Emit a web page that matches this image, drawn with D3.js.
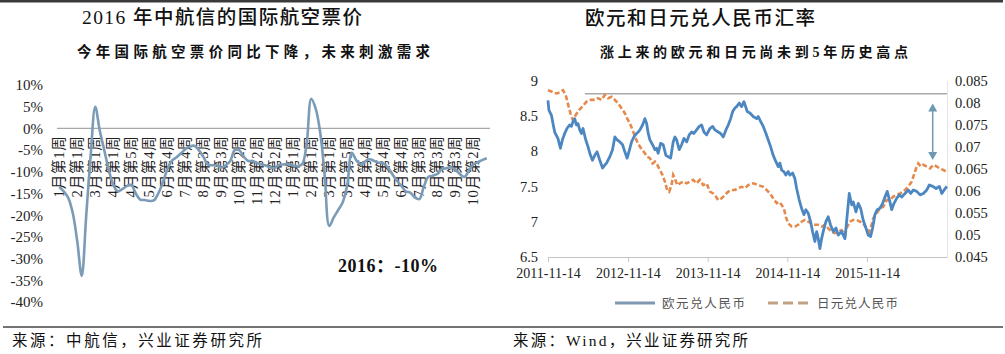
<!DOCTYPE html>
<html>
<head>
<meta charset="utf-8">
<script src="https://cdn.jsdelivr.net/npm/d3@7"></script>
<style>
  body { margin: 0; background: #fff; }
  svg { display: block; }
  text { font-family: "Liberation Serif", "Noto Sans CJK SC", serif; }
</style>
</head>
<body>
<svg id="chart" width="1005" height="354"></svg>
<script>
// ---- left chart: weekly change of international air fares (%) ----
const fareLabels = ['1月第1周','2月第1周','3月第1周','4月第1周','4月第5周','5月第4周','6月第4周','7月第4周',
  '8月第3周','9月第3周','10月第2周','11月第2周','12月第2周','1月第1周','2月第1周','3月第1周','3月第5周',
  '4月第4周','5月第4周','6月第4周','7月第3周','8月第3周','9月第3周','10月第2周'];
const labelEvery = 4; // one label every 4 weeks
const fareChange = [-13.5,-14.5,-16,-19.5,-26,-34,-20,-6,5,-0.5,
  -5,-9.5,-13,-14.5,-14,-13.3,-13,-15,-16.4,-16.5,
  -16.7,-16.6,-15,-12.5,-9.5,-7.5,-6.7,-5.8,-4.8,-4.2,
  -4,-5,-6.5,-8.3,-8.5,-8.5,-9,-8.5,-7.5,-5,
  -5,-6.5,-7.5,-7.5,-8,-8.3,-8.6,-9,-9,-8.4,
  -8.3,-8.3,-8.6,-8.7,-8.2,-3.3,6.8,4.5,-1,-11,
  -22.5,-20.5,-18.8,-17,-13,-5.6,-7.3,-8.3,-7.6,-7.1,
  -7.5,-7.9,-8,-9,-10.5,-12,-13.2,-14.5,-14.8,-15.9,
  -16.3,-13.5,-11.2,-10.9,-10.5,-9.4,-9.2,-8.9,-9.5,-10.5,
  -11.2,-9.8,-8.3,-7.8,-7.3,-6.9];
const fareTicks = [10,5,0,-5,-10,-15,-20,-25,-30,-35,-40];

// ---- right chart: EUR/CNY (left axis) and JPY/CNY (right axis), time in decimal years ----
const eurSeries = [[2011.868,8.72],[2011.880,8.58],[2011.911,8.51],[2011.931,8.39],[2011.952,8.27],[2011.993,8.18],[2012.024,8.04],[2012.049,8.16],[2012.078,8.25],[2012.106,8.32],[2012.140,8.37],[2012.162,8.35],[2012.182,8.42],[2012.203,8.46],[2012.224,8.37],[2012.244,8.39],[2012.266,8.30],[2012.287,8.25],[2012.307,8.32],[2012.341,8.16],[2012.370,8.06],[2012.400,7.94],[2012.425,7.87],[2012.454,7.94],[2012.483,7.99],[2012.517,7.87],[2012.551,7.76],[2012.579,7.80],[2012.601,7.83],[2012.642,7.92],[2012.676,8.02],[2012.705,8.20],[2012.734,8.16],[2012.768,8.13],[2012.802,8.09],[2012.830,7.99],[2012.859,7.90],[2012.893,8.04],[2012.914,8.13],[2012.943,8.20],[2012.977,8.25],[2012.997,8.27],[2013.019,8.30],[2013.052,8.37],[2013.081,8.46],[2013.103,8.39],[2013.123,8.25],[2013.144,8.16],[2013.178,8.09],[2013.207,8.02],[2013.228,8.04],[2013.248,7.97],[2013.278,8.11],[2013.311,8.09],[2013.345,7.94],[2013.374,7.92],[2013.404,7.90],[2013.436,8.13],[2013.458,8.20],[2013.479,8.16],[2013.512,8.02],[2013.542,8.09],[2013.571,8.18],[2013.605,8.13],[2013.637,8.23],[2013.667,8.27],[2013.696,8.25],[2013.730,8.30],[2013.763,8.35],[2013.793,8.37],[2013.822,8.27],[2013.855,8.23],[2013.897,8.32],[2013.931,8.35],[2013.960,8.30],[2014.001,8.27],[2014.031,8.25],[2014.064,8.20],[2014.098,8.30],[2014.127,8.37],[2014.157,8.46],[2014.182,8.56],[2014.211,8.61],[2014.232,8.63],[2014.265,8.68],[2014.295,8.63],[2014.324,8.70],[2014.365,8.56],[2014.399,8.54],[2014.440,8.49],[2014.483,8.46],[2014.503,8.49],[2014.533,8.42],[2014.566,8.35],[2014.600,8.25],[2014.628,8.16],[2014.659,8.06],[2014.691,7.94],[2014.725,7.85],[2014.754,7.78],[2014.775,7.83],[2014.797,7.73],[2014.825,7.71],[2014.850,7.66],[2014.879,7.71],[2014.901,7.66],[2014.935,7.69],[2014.963,7.61],[2014.985,7.47],[2015.017,7.31],[2015.047,7.19],[2015.076,7.10],[2015.101,7.17],[2015.130,7.12],[2015.160,7.00],[2015.185,6.86],[2015.214,6.72],[2015.236,6.86],[2015.256,6.76],[2015.277,6.62],[2015.298,6.76],[2015.318,6.86],[2015.352,7.00],[2015.381,7.07],[2015.411,6.95],[2015.444,6.86],[2015.478,6.91],[2015.507,6.81],[2015.549,6.86],[2015.591,6.76],[2015.620,7.10],[2015.645,7.40],[2015.675,7.24],[2015.695,7.28],[2015.729,7.14],[2015.758,7.26],[2015.788,7.19],[2015.820,7.02],[2015.854,6.91],[2015.883,6.81],[2015.913,6.79],[2015.938,6.91],[2015.967,7.10],[2015.996,7.17],[2016.030,7.19],[2016.064,7.26],[2016.093,7.35],[2016.121,7.43],[2016.155,7.28],[2016.177,7.17],[2016.206,7.26],[2016.239,7.33],[2016.272,7.38],[2016.302,7.35],[2016.344,7.40],[2016.385,7.45],[2016.415,7.40],[2016.448,7.45],[2016.490,7.43],[2016.532,7.38],[2016.573,7.40],[2016.616,7.45],[2016.648,7.52],[2016.691,7.50],[2016.733,7.47],[2016.774,7.50],[2016.804,7.40],[2016.833,7.45],[2016.867,7.50]];

const jpySeries = [[2011.868,0.0828],[2011.911,0.0825],[2011.952,0.0821],[2011.993,0.0821],[2012.024,0.0825],[2012.056,0.0828],[2012.090,0.0817],[2012.106,0.0806],[2012.132,0.0787],[2012.162,0.0768],[2012.182,0.0760],[2012.216,0.0772],[2012.257,0.0783],[2012.300,0.0791],[2012.350,0.0802],[2012.400,0.0806],[2012.454,0.0806],[2012.495,0.0810],[2012.538,0.0806],[2012.579,0.0817],[2012.621,0.0810],[2012.664,0.0813],[2012.705,0.0806],[2012.746,0.0798],[2012.789,0.0787],[2012.830,0.0776],[2012.859,0.0764],[2012.893,0.0753],[2012.927,0.0738],[2012.956,0.0723],[2012.985,0.0711],[2013.019,0.0700],[2013.052,0.0692],[2013.081,0.0685],[2013.110,0.0677],[2013.144,0.0674],[2013.178,0.0662],[2013.207,0.0666],[2013.236,0.0659],[2013.270,0.0647],[2013.303,0.0636],[2013.332,0.0621],[2013.361,0.0602],[2013.386,0.0598],[2013.416,0.0613],[2013.436,0.0636],[2013.458,0.0628],[2013.487,0.0613],[2013.520,0.0617],[2013.562,0.0621],[2013.605,0.0617],[2013.646,0.0621],[2013.687,0.0625],[2013.730,0.0617],[2013.771,0.0625],[2013.813,0.0613],[2013.855,0.0617],[2013.897,0.0598],[2013.938,0.0594],[2013.972,0.0587],[2014.001,0.0579],[2014.044,0.0583],[2014.085,0.0591],[2014.127,0.0598],[2014.169,0.0602],[2014.211,0.0602],[2014.252,0.0606],[2014.295,0.0609],[2014.336,0.0606],[2014.377,0.0613],[2014.440,0.0617],[2014.503,0.0613],[2014.566,0.0609],[2014.608,0.0602],[2014.650,0.0594],[2014.691,0.0583],[2014.734,0.0572],[2014.766,0.0575],[2014.797,0.0568],[2014.825,0.0560],[2014.850,0.0541],[2014.879,0.0526],[2014.922,0.0519],[2014.963,0.0519],[2015.005,0.0523],[2015.047,0.0530],[2015.089,0.0534],[2015.130,0.0530],[2015.173,0.0526],[2015.214,0.0523],[2015.256,0.0523],[2015.298,0.0519],[2015.340,0.0523],[2015.381,0.0515],[2015.424,0.0507],[2015.465,0.0504],[2015.507,0.0507],[2015.549,0.0511],[2015.591,0.0500],[2015.620,0.0519],[2015.653,0.0530],[2015.695,0.0534],[2015.737,0.0534],[2015.779,0.0530],[2015.820,0.0526],[2015.863,0.0515],[2015.896,0.0507],[2015.926,0.0523],[2015.946,0.0538],[2015.988,0.0549],[2016.030,0.0560],[2016.071,0.0564],[2016.114,0.0579],[2016.155,0.0579],[2016.197,0.0587],[2016.239,0.0591],[2016.281,0.0594],[2016.322,0.0598],[2016.365,0.0606],[2016.398,0.0613],[2016.428,0.0621],[2016.448,0.0632],[2016.482,0.0651],[2016.510,0.0662],[2016.541,0.0655],[2016.573,0.0659],[2016.616,0.0655],[2016.657,0.0651],[2016.699,0.0659],[2016.741,0.0655],[2016.783,0.0651],[2016.824,0.0647],[2016.867,0.0643]];

const fxDateTicks = ['2011-11-14','2012-11-14','2013-11-14','2014-11-14','2015-11-14'];
const fxDomain = ['2011-11-14','2016-11-14'];
const eurTicks = [9,8.5,8,7.5,7,6.5];
const jpyTicks = [0.085,0.08,0.075,0.07,0.065,0.06,0.055,0.05,0.045];
const jpyHigh = 0.082, jpyHighFrom = 2012.33;       // 5-year high reference line
const arrowAt = 2016.69, arrowSpan = [0.0798, 0.067]; // gap to the high
const legendNames = ['欧元兑人民币', '日元兑人民币'];

const svg = d3.select('#chart');
svg.append('rect').attr('width', 1005).attr('height', 354).attr('fill', '#fff');

// frame rules
svg.append('line').attr('x1', 0).attr('x2', 1003).attr('y1', 1.2).attr('y2', 1.2)
  .attr('stroke', '#3a3a3a').attr('stroke-width', 2.4);
svg.append('line').attr('x1', 3).attr('x2', 1003).attr('y1', 327).attr('y2', 327)
  .attr('stroke', '#444').attr('stroke-width', 1.4);

function addText(x, y, str, size, width, opts) {
  const t = svg.append('text').attr('x', x).attr('y', y).text(str)
    .attr('font-size', size).attr('fill', (opts && opts.fill) || '#111');
  if (width) t.attr('textLength', width).attr('lengthAdjust', 'spacing');
  if (opts && opts.weight) t.attr('font-weight', opts.weight);
  return t;
}

// titles
addText(82, 24, '2016 年中航信的国际航空票价', 19.5, 280, { weight: 500 });
addText(77, 57, '今年国际航空票价同比下降，未来刺激需求', 14.5, 353, { weight: 700 });
addText(585, 25, '欧元和日元兑人民币汇率', 19.5, 230, { weight: 500 });
addText(600, 57, '涨上来的欧元和日元尚未到5年历史高点', 14, 308, { weight: 700 });

// sources
addText(12, 346, '来源：中航信，兴业证券研究所', 15.5, 250);
addText(513, 346, '来源：Wind，兴业证券研究所', 15.5, 235);

// ===== left chart =====
const xw = d3.scaleLinear().domain([0, fareChange.length]).range([57, 489]);
const yf = d3.scaleLinear().domain([-40, 10]).range([302, 85]);

const gy = svg.append('g').attr('transform', 'translate(57,0)')
  .call(d3.axisLeft(yf).tickValues(fareTicks).tickSize(0).tickPadding(14).tickFormat(d => d + '%'));
gy.select('.domain').remove();
gy.selectAll('text').attr('font-size', 15).attr('fill', '#222')
  .style('font-family', '"Liberation Serif", serif');

svg.append('line').attr('x1', xw(0)).attr('x2', xw(fareChange.length) + 1)
  .attr('y1', yf(0)).attr('y2', yf(0)).attr('stroke', '#a8a8a8').attr('stroke-width', 1.4);

svg.append('g').selectAll('text').data(fareLabels).join('text')
  .attr('transform', (d, i) => `translate(${xw(i * labelEvery + 0.5)},${yf(0) + 7}) rotate(-90)`)
  .attr('text-anchor', 'end').attr('dy', '0.36em')
  .attr('font-size', 14.5).attr('letter-spacing', 0.8).attr('fill', '#222').text(d => d);

svg.append('path').datum(fareChange)
  .attr('fill', 'none').attr('stroke', '#7b9bb6').attr('stroke-width', 2.6)
  .attr('stroke-linejoin', 'round')
  .attr('d', d3.line().x((d, i) => xw(i + 0.5)).y(d => yf(d)).curve(d3.curveCatmullRom.alpha(0.5)));

addText(338, 272, '2016：-10%', 18, 100, { weight: 700 });

// ===== right chart =====
const parseDay = d3.utcParse('%Y-%m-%d');
function yearToDate(t) {
  const y = Math.floor(t);
  const a = Date.UTC(y, 0, 1), b = Date.UTC(y + 1, 0, 1);
  return new Date(a + (t - y) * (b - a));
}
const xt = d3.scaleUtc().domain(fxDomain.map(parseDay)).range([548, 947]);
const ye = d3.scaleLinear().domain([6.5, 9]).range([257, 80.5]);
const yj = d3.scaleLinear().domain([0.045, 0.085]).range([257, 80.5]);

const gx = svg.append('g').attr('transform', 'translate(0,257)')
  .call(d3.axisBottom(xt).tickValues(fxDateTicks.map(parseDay)).tickSize(5).tickSizeOuter(0)
    .tickPadding(6).tickFormat(d3.utcFormat('%Y-%m-%d')));
gx.select('.domain').attr('stroke', '#c4c4c4').attr('stroke-width', 1.2);
gx.selectAll('.tick line').attr('stroke', '#c4c4c4');
gx.selectAll('text').attr('font-size', 14).attr('fill', '#222');

const gl = svg.append('g').attr('transform', 'translate(548,0)')
  .call(d3.axisLeft(ye).tickValues(eurTicks).tickSize(0).tickPadding(10).tickFormat(d3.format('')));
gl.select('.domain').remove();
gl.selectAll('text').attr('font-size', 14.5).attr('fill', '#222');

const gr = svg.append('g').attr('transform', 'translate(947,0)')
  .call(d3.axisRight(yj).tickValues(jpyTicks).tickSize(0).tickPadding(8).tickFormat(d => String(+d.toFixed(3))));
gr.select('.domain').attr('stroke', '#e6e6e6').attr('stroke-width', 1);
gr.selectAll('text').attr('font-size', 14.5).attr('fill', '#222');

// 5-year high line
svg.append('line')
  .attr('x1', xt(yearToDate(jpyHighFrom))).attr('x2', xt.range()[1])
  .attr('y1', yj(jpyHigh)).attr('y2', yj(jpyHigh))
  .attr('stroke', '#a9a9a9').attr('stroke-width', 1.5);

svg.append('path').datum(jpySeries)
  .attr('fill', 'none').attr('stroke', '#e58a4c').attr('stroke-width', 2.6)
  .attr('stroke-dasharray', '5,2.5')
  .attr('d', d3.line().x(d => xt(yearToDate(d[0]))).y(d => yj(d[1])));

svg.append('path').datum(eurSeries)
  .attr('fill', 'none').attr('stroke', '#4d87c2').attr('stroke-width', 2.8)
  .attr('stroke-linejoin', 'round')
  .attr('d', d3.line().x(d => xt(yearToDate(d[0]))).y(d => ye(d[1])));

// double arrow
const ax = xt(yearToDate(arrowAt)), aTop = yj(arrowSpan[0]), aBot = yj(arrowSpan[1]);
const arrowColor = '#6f98b5';
svg.append('line').attr('x1', ax).attr('x2', ax).attr('y1', aTop + 6).attr('y2', aBot - 6)
  .attr('stroke', arrowColor).attr('stroke-width', 1.5);
svg.append('path').attr('fill', arrowColor)
  .attr('d', `M${ax},${aTop}L${ax - 4.5},${aTop + 8}L${ax + 4.5},${aTop + 8}Z`);
svg.append('path').attr('fill', arrowColor)
  .attr('d', `M${ax},${aBot}L${ax - 4.5},${aBot - 8}L${ax + 4.5},${aBot - 8}Z`);

// legend
const lg = svg.append('g');
lg.append('line').attr('x1', 615).attr('x2', 655).attr('y1', 303).attr('y2', 303)
  .attr('stroke', '#7f97b0').attr('stroke-width', 3);
lg.append('line').attr('x1', 768).attr('x2', 808).attr('y1', 303).attr('y2', 303)
  .attr('stroke', '#c1a184').attr('stroke-width', 3).attr('stroke-dasharray', '10,5');
addText(662, 307.5, legendNames[0], 12.5, 83, { fill: '#555' });
addText(817, 307.5, legendNames[1], 12.5, 81, { fill: '#555' });
</script>
</body>
</html>
